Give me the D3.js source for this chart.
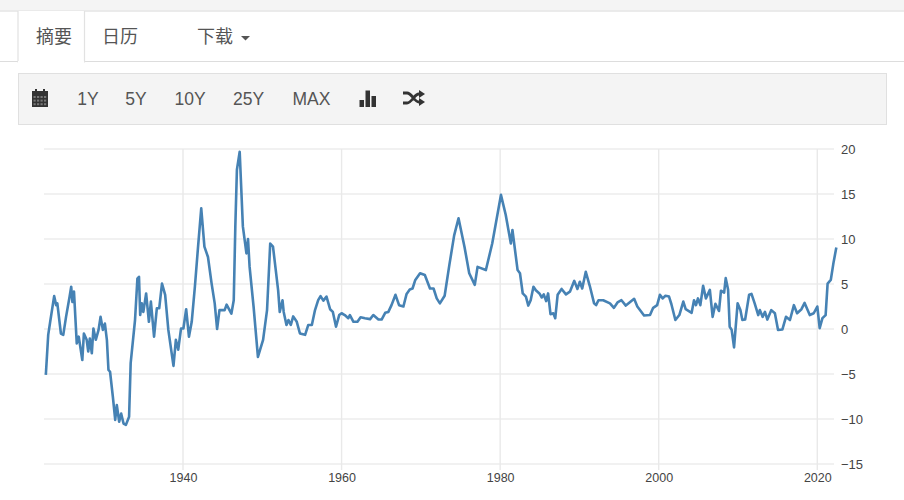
<!DOCTYPE html>
<html><head><meta charset="utf-8">
<script src="https://cdn.jsdelivr.net/npm/d3@7/dist/d3.min.js"></script>
<style>
html,body{margin:0;padding:0;background:#fff;overflow:hidden}
svg{display:block}
text{font-family:"Liberation Sans",Arial,sans-serif}
.cjk{font-family:"Noto Sans CJK SC",sans-serif}
</style></head><body><svg id="c" width="904" height="500"></svg>
<script>
const tabLabels = ["摘要","日历","下载"];
const rangeLabels = ["1Y","5Y","10Y","25Y","MAX"];
const xTickYears = [1940,1960,1980,2000,2020];
const yTickValues = [-15,-10,-5,0,5,10,15,20];
const years = [
1922.7,1923.0,1923.25,1923.75,1924,1924.15,1924.6,1924.9,1925.25,1925.7,
1925.9,1926.05,1926.25,1926.6,1926.85,1927.3,1927.5,1927.85,1928.05,1928.25,
1928.5,1928.7,1929,1929.35,1929.6,1929.9,1930.15,1930.4,1930.6,1930.8,
1931.15,1931.45,1931.65,1931.95,1932.2,1932.5,1932.8,1933.2,1933.4,1933.95,
1934.25,1934.45,1934.6,1934.8,1935,1935.35,1935.7,1935.95,1936.35,1936.7,
1937,1937.35,1937.75,1938.15,1938.8,1939.1,1939.4,1939.75,1940.05,1940.4,
1940.75,1941.1,1941.5,1941.9,1942.3,1942.7,1943.15,1943.6,1944,1944.3,
1944.6,1945.25,1945.5,1946.1,1946.4,1946.6,1946.8,1947.15,1947.55,1948,
1948.2,1948.4,1948.9,1949.45,1950.1,1950.6,1951,1951.35,1951.7,1952.0,
1952.2,1952.55,1952.7,1953.05,1953.3,1953.6,1953.9,1954.35,1954.75,1955.4,
1955.8,1956.25,1956.65,1957.05,1957.35,1957.7,1958.1,1958.55,1958.9,1959.3,
1959.7,1960,1960.4,1960.85,1961.05,1961.5,1962,1962.4,1962.95,1963.6,
1964,1964.65,1965.05,1965.5,1965.9,1966.3,1966.8,1967.25,1967.8,1968.2,
1968.6,1968.95,1969.3,1969.9,1970.5,1971.15,1971.6,1972,1972.4,1973,
1973.6,1974.2,1974.75,1975.5,1976.1,1976.8,1977.15,1978.2,1979,1980.1,
1980.7,1981.35,1981.55,1982.2,1982.5,1982.85,1983.25,1983.55,1983.85,1984.2,
1984.5,1984.95,1985.25,1985.5,1985.8,1986.05,1986.35,1986.7,1986.95,1987.25,
1987.75,1988.3,1988.8,1989.35,1989.75,1990.05,1990.35,1990.8,1991.3,1991.85,
1992.1,1992.4,1993,1993.85,1994.35,1994.8,1995.3,1995.85,1996.9,1997.3,
1998.15,1998.9,1999.3,1999.8,2000.15,2000.5,2000.85,2001.3,2001.6,2002.1,
2002.6,2003.1,2003.4,2004.15,2004.45,2004.7,2004.95,2005.25,2005.6,2005.95,
2006.45,2006.8,2007.15,2007.6,2007.85,2008.25,2008.45,2008.75,2008.95,2009.2,
2009.5,2009.95,2010.3,2010.55,2010.9,2011.4,2011.7,2012.1,2012.55,2012.75,
2013.1,2013.4,2013.7,2014.2,2014.65,2015.05,2015.6,2016.05,2016.55,2017.05,
2017.45,2018,2018.4,2019.05,2019.55,2020,2020.3,2020.65,2021.05,2021.3,
2021.7,2022.05,2022.4];
const rates = [
-5.1,-0.65,0.8,3.65,2.65,2.85,-0.5,-0.65,1.35,3.6,
4.7,3,4.15,-1.6,-0.85,-3.45,-0.5,-1.2,-2.5,-1.05,
-2.7,0.05,-1.2,-0.1,1.35,-0.1,0.6,-1.2,-4.55,-4.75,
-7.5,-10.1,-8.45,-10.3,-9.4,-10.5,-10.65,-9.75,-3.8,1,
5.6,5.8,1.55,2.85,1.9,3.95,0.8,3.05,-0.85,2.3,
2.3,5.05,3.8,-0.1,-4.1,-1.2,-2.3,0.05,0.05,2.2,
-0.85,0.8,4.7,9.15,13.4,9.15,8,5.1,2.85,0,
2.1,2.1,2.7,1.7,3.2,11.4,17.7,19.7,11.4,8.4,
10,6.9,2.5,-3.1,-1.2,2.1,9.5,9.15,6.55,4.3,
1.9,3.2,1.9,0.45,1,0.45,1.4,0.8,-0.5,-0.65,
0.45,0.45,2.1,3.2,3.65,3.15,3.6,2.2,1.9,0.25,
1.55,1.75,1.55,1.2,1.55,0.8,0.8,1.3,1.2,1.1,
1.55,1.05,1.05,1.8,1.9,2.65,3.8,2.65,2.5,3.9,
4.4,4.5,5.45,6.2,6,4.5,4.5,3.4,2.85,3.7,
7.15,10.4,12.3,9.15,6.2,4.9,6.9,6.55,9.5,14.9,
12.7,9.5,11,6.55,6.2,3.95,3.6,2.6,3.2,4.7,
4.3,3.95,3.5,3.85,3.1,3.95,1.65,1.75,1.2,3.8,
4.45,3.85,4.15,5.35,4.45,5.25,4.5,6.35,4.8,2.85,
2.65,3.2,3.2,2.85,2.35,2.95,3.2,2.6,3.35,2.5,
1.5,1.55,2.35,2.65,3.8,3.4,3.7,3.6,2.75,1,
1.55,3.05,2.2,1.8,3.2,2.65,3.4,2.65,4.8,3.4,
4.35,1.35,2.8,2,4.25,4.05,5.65,4.35,0.25,-0.1,
-2.05,2.85,2.1,1,1.05,3.8,3.9,2.85,1.55,2.1,
1.35,1.9,1.05,2.1,1.75,-0.1,-0.05,1.35,1,2.65,
1.75,2.2,2.9,1.55,1.75,2.5,0.1,1.2,1.55,5.05,
5.45,7.4,9.05];

const svg = d3.select("#c");
const xScale = d3.scaleLinear().domain([1940,2020]).range([183,817.3]);
const y = d3.scaleLinear().domain([-15,20]).range([464,149]);
const textCol = "#555";

// page chrome
svg.append("rect").attr("x",0).attr("y",0).attr("width",904).attr("height",10.5).attr("fill","#f4f4f4");
svg.append("line").attr("x1",0).attr("x2",904).attr("y1",11).attr("y2",11).attr("stroke","#e4e4e4").attr("stroke-width",1.5);
svg.append("line").attr("x1",0).attr("x2",904).attr("y1",61.5).attr("y2",61.5).attr("stroke","#ddd").attr("stroke-width",1.2);
svg.append("path").attr("d","M18,11V62H84.5V11").attr("fill","#fff").attr("stroke","#e2e2e2").attr("stroke-width",1.2);
svg.append("line").attr("x1",18).attr("x2",84).attr("y1",62).attr("y2",62).attr("stroke","#fff").attr("stroke-width",2);
const tabX = [36,102,197];
svg.selectAll(".tab").data(tabLabels).join("text").attr("class","cjk")
  .attr("x",(d,i)=>tabX[i]).attr("y",43).attr("font-size",18).attr("fill",textCol).text(d=>d);
svg.append("path").attr("d","M241,36h9l-4.5,4.5z").attr("fill","#555");

// toolbar
svg.append("rect").attr("x",18.5).attr("y",73.5).attr("width",868).attr("height",51)
  .attr("fill","#f4f4f4").attr("stroke","#e0e0e0").attr("stroke-width",1);
const rangeX = [88,136,190,248.5,311.5];
svg.selectAll(".rng").data(rangeLabels).join("text")
  .attr("x",(d,i)=>rangeX[i]).attr("y",105).attr("text-anchor","middle")
  .attr("font-size",17.5).attr("fill",textCol).text(d=>d);
// calendar icon
const ic = svg.append("g").attr("fill","#333");
ic.append("path").attr("d","M32,91h3v-2h2v2h6v-2h2v2h3v16h-16z");
for(let r=0;r<3;r++)for(let c=0;c<4;c++)
  ic.append("rect").attr("x",33.5+c*3.5).attr("y",96+r*3.6).attr("width",2.2).attr("height",2).attr("fill","#777");
// bar icon
ic.append("rect").attr("x",359.5).attr("y",100).attr("width",4.5).attr("height",7);
ic.append("rect").attr("x",365.5).attr("y",90.5).attr("width",4.5).attr("height",16.5);
ic.append("rect").attr("x",371.5).attr("y",96).attr("width",4.5).attr("height",11);
// shuffle icon
svg.append("path").attr("d","M403,93h4c5,0,7,9,12,9h1M403,103h4c5,0,7,-9,12,-9h1").attr("fill","none").attr("stroke","#333").attr("stroke-width",2.8);
svg.append("path").attr("d","M419,90l6,4l-6,4zM419,98l6,4l-6,4z").attr("fill","#333");

// grid
const grid = svg.append("g");
grid.selectAll(".h").data(yTickValues).join("line")
  .attr("x1",44).attr("x2",834).attr("y1",d=>y(d)).attr("y2",d=>y(d))
  .attr("stroke","#ededed").attr("stroke-width",1.4);
grid.selectAll(".v").data(xTickYears).join("line")
  .attr("x1",d=>xScale(d)).attr("x2",d=>xScale(d)).attr("y1",149).attr("y2",470)
  .attr("stroke","#e9e9e9").attr("stroke-width",1.4);

// axes
const ax = svg.append("g").attr("transform","translate(0,464)")
  .call(d3.axisBottom(xScale).tickValues(xTickYears).tickFormat(d3.format("d")).tickSize(0).tickPadding(9));
ax.select(".domain").remove();
ax.selectAll("text").attr("font-size",12.5).attr("fill","#444").style("font-family",'"Liberation Sans",Arial,sans-serif');
const ay = svg.append("g").attr("transform","translate(834,0)")
  .call(d3.axisRight(y).tickValues(yTickValues).tickFormat(d3.format("d")).tickSize(0).tickPadding(7));
ay.select(".domain").remove();
ay.selectAll("text").attr("font-size",13).attr("fill","#444").style("font-family",'"Liberation Sans",Arial,sans-serif');

// line
svg.append("path").datum(d3.zip(years,rates))
  .attr("d",d3.line().x(d=>xScale(d[0])).y(d=>y(d[1])))
  .attr("fill","none").attr("stroke","#4682b4").attr("stroke-width",2.6).attr("stroke-linejoin","round");
</script></body></html>
